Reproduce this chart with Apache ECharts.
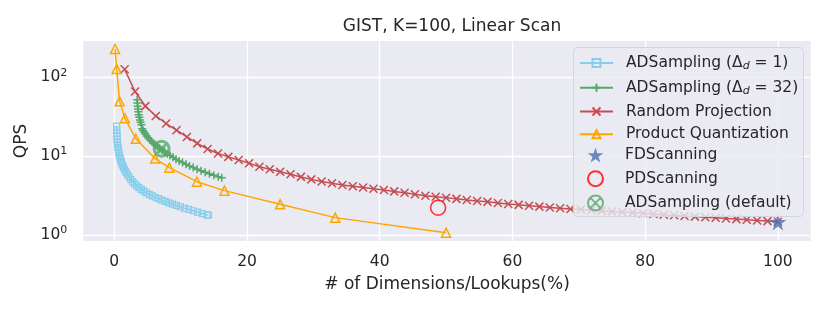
<!DOCTYPE html>
<html>
<head>
<meta charset="utf-8">
<script src="https://cdn.jsdelivr.net/npm/echarts@6/dist/echarts.min.js"></script>
<style>html,body{margin:0;padding:0;background:#fff}#c{width:830px;height:312px}</style>
</head>
<body>
<div id="c"></div>
<script>
// ---- data ----
const ad1X = [0.36,0.37,0.39,0.41,0.44,0.47,0.51,0.56,0.62,0.69,0.77,0.86,0.96,1.08,1.22,1.38,1.56,1.76,1.98,2.22,2.48,2.76,3.06,3.38,3.72,4.08,4.46,4.86,5.28,5.72,6.18,6.66,7.16,7.68,8.22,8.78,9.36,9.96,10.58,11.22,11.88,12.56,13.26,13.98,14.2];
const ad1Y = [24.0,21.5,19.5,17.8,16.3,15.0,13.9,12.9,12.0,11.1,10.3,9.6,8.9,8.3,7.7,7.2,6.7,6.25,5.85,5.45,5.05,4.72,4.45,4.2,3.98,3.78,3.6,3.43,3.28,3.14,3.01,2.89,2.77,2.66,2.56,2.46,2.37,2.28,2.19,2.11,2.03,1.95,1.87,1.8,1.78];
const ad32X = [3.45,3.48,3.52,3.57,3.63,3.70,3.78,3.87,3.97,4.08,4.20,4.34,4.50,4.68,4.88,5.10,5.34,5.60,5.88,6.18,6.50,6.84,7.20,7.58,7.98,8.40,8.84,9.30,9.78,10.28,10.80,11.34,11.90,12.48,13.08,13.70,14.34,15.00,15.68,16.2];
const ad32Y = [52,47,43,39.5,36.5,33.5,31,28.8,26.8,25,22.3,21.1,20.0,19.0,18.0,17.1,16.2,15.4,14.6,13.9,13.2,12.5,11.9,11.3,10.7,10.2,9.65,9.15,8.7,8.3,7.9,7.5,7.15,6.82,6.52,6.23,5.97,5.72,5.48,5.32];
const rpX = [1.5625,3.125,4.6875,6.25,7.8125,9.375,10.9375,12.5,14.0625,15.625,17.1875,18.75,20.3125,21.875,23.4375,25,26.5625,28.125,29.6875,31.25,32.8125,34.375,35.9375,37.5,39.0625,40.625,42.1875,43.75,45.3125,46.875,48.4375,50,51.5625,53.125,54.6875,56.25,57.8125,59.375,60.9375,62.5,64.0625,65.625,67.1875,68.75,70.3125,71.875,73.4375,75,76.5625,78.125,79.6875,81.25,82.8125,84.375,85.9375,87.5,89.0625,90.625,92.1875,93.75,95.3125,96.875,98.4375,100];
const rpY = [126,66,43,32.3,25.9,21.3,17.5,14.5,12.3,10.8,9.78,8.95,8.1,7.35,6.8,6.34,5.9,5.45,5.07,4.76,4.52,4.31,4.14,4.0,3.86,3.72,3.57,3.43,3.29,3.15,3.06,2.97,2.87,2.78,2.7,2.63,2.55,2.47,2.41,2.35,2.29,2.23,2.18,2.14,2.1,2.06,2.02,1.99,1.95,1.92,1.89,1.85,1.81,1.78,1.74,1.71,1.68,1.65,1.62,1.59,1.56,1.53,1.5,1.47];
const pqX = [0.12,0.36,0.8,1.6,3.25,6.15,8.3,12.45,16.6,25,33.3,50];
const pqY = [228,127,49.5,30.1,16.6,9.3,7.13,4.74,3.65,2.45,1.66,1.07];
const fdsPoint = [100, 1.46];
const pdsPoint = [48.8, 2.22];
const defPoint = [7.14, 12.4];
const xTicks = [0,20,40,60,80,100];
const yTicks = [1,10,100];
const lineNames = ['ADSampling (Δd = 1)','ADSampling (Δd = 32)','Random Projection','Product Quantization'];
const pointNames = ['FDScanning','PDScanning','ADSampling (default)'];

const zip = (a,b) => a.map((v,i)=>[v,b[i]]);
const FONT = 'DejaVu Sans';
const TXT = '#262626';
const PLUS = 'path://M0,5 L10,5 M5,0 L5,10';
const CROSS = 'path://M0,0 L10,10 M10,0 L0,10';
const STAR = 'path://M50,0 L61.2,34.5 L97.6,34.5 L68.2,55.9 L79.4,90.5 L50,69.1 L20.6,90.5 L31.8,55.9 L2.4,34.5 L38.8,34.5 Z';
const OTIMES = 'path://M20,10 A10,10 0 1,1 0,10 A10,10 0 1,1 20,10 Z M3,3 L17,17 M17,3 L3,17';

function lineSeries(name, data, color, symbol, size, bw) {
  return {
    name, type: 'line', data, showAllSymbol: true, symbol, symbolSize: size,
    lineStyle: {color, width: 1.5},
    itemStyle: {color: 'rgba(0,0,0,0)', borderColor: color, borderWidth: bw},
    emphasis: {disabled: true}, animation: false, z: 2
  };
}

const legendText = {fontFamily: FONT, fontSize: 15.5, color: TXT, lineHeight: 16, padding: [0,0,0,8],
  rich: {t: {fontFamily: FONT, fontSize: 15.5, color: TXT, lineHeight: 16},
         d: {fontFamily: FONT, fontSize: 11, fontStyle: 'italic', color: TXT, lineHeight: 9, padding: [7,0,0,0]}}};

const chart = echarts.init(document.getElementById('c'), null, {renderer: 'canvas'});
chart.setOption({
  animation: false,
  title: {text: 'GIST, K=100, Linear Scan', left: 447, textAlign: 'center', top: 13,
    textStyle: {fontFamily: FONT, fontSize: 17, fontWeight: 'normal', color: TXT}},
  grid: {left: 83.3, right: 19.3, top: 41, bottom: 71, show: true, backgroundColor: '#EAEAF2', borderWidth: 0},
  xAxis: {
    type: 'value', min: -4.67, max: 104.95,
    name: '# of Dimensions/Lookups(%)', nameLocation: 'middle', nameGap: 35,
    nameTextStyle: {fontFamily: FONT, fontSize: 17, color: TXT, verticalAlign: 'top'},
    axisLine: {show: false}, axisTick: {show: false, customValues: xTicks},
    axisLabel: {customValues: xTicks, fontFamily: FONT, fontSize: 15.5, color: TXT, margin: 13},
    splitLine: {show: true, lineStyle: {color: '#fff', width: 1.3}}
  },
  yAxis: {
    type: 'log', logBase: 10, min: 0.839, max: 288,
    name: 'QPS', nameLocation: 'middle', nameGap: 50,
    nameTextStyle: {fontFamily: FONT, fontSize: 17, color: TXT},
    axisLine: {show: false}, axisTick: {show: false, customValues: yTicks},
    axisLabel: {customValues: yTicks, margin: 16, color: TXT,
      formatter: v => '{b|10}{s|' + Math.round(Math.log10(v)) + '}',
      rich: {b: {fontFamily: FONT, fontSize: 15.5, color: TXT},
             s: {fontFamily: FONT, fontSize: 11, color: TXT, padding: [0,0,9,0]}}},
    splitLine: {show: true, lineStyle: {color: '#fff', width: 1.3}},
    minorTick: {show: false}, minorSplitLine: {show: false}
  },
  graphic: [{type: 'rect', left: 573, top: 47, z: 50,
    shape: {width: 230, height: 169, r: 4},
    style: {fill: 'rgba(234,234,242,0.8)', stroke: '#d4d4dc', lineWidth: 1}}],
  legend: [{
    orient: 'vertical', left: 579, top: 53.9, padding: 0, z: 60,
    itemWidth: 33, itemHeight: 10, itemGap: 6.8,
    data: lineNames,
    formatter: n => {
      if (n === lineNames[0]) return 'ADSampling ({t|Δ}{d|d}{t| = 1})';
      if (n === lineNames[1]) return 'ADSampling ({t|Δ}{d|d}{t| = 32})';
      return n;
    },
    textStyle: legendText
  }, {
    orient: 'vertical', left: 587, top: 147, padding: 0, z: 60,
    itemWidth: 33, itemHeight: 15, itemGap: 7.2,
    data: pointNames,
    textStyle: legendText
  }],
  series: [
    lineSeries(lineNames[0], zip(ad1X, ad1Y), '#87CEEB', 'rect', 6, 1.2),
    lineSeries(lineNames[1], zip(ad32X, ad32Y), '#55A868', PLUS, 8, 1.5),
    lineSeries(lineNames[2], zip(rpX, rpY), '#C44E52', CROSS, 8, 1.5),
    lineSeries(lineNames[3], zip(pqX, pqY), '#FFA500', 'triangle', 9, 1.5),
    {name: pointNames[0], type: 'scatter', data: [fdsPoint], symbol: STAR, symbolSize: 17,
      itemStyle: {color: '#4C72B0'}, emphasis: {disabled: true}, z: 3},
    {name: pointNames[1], type: 'scatter', data: [pdsPoint], symbol: 'circle', symbolSize: 15,
      itemStyle: {color: 'rgba(0,0,0,0)', borderColor: '#FF0000', borderWidth: 1.5}, emphasis: {disabled: true}, z: 3},
    {name: pointNames[2], type: 'scatter', data: [defPoint], symbol: OTIMES, symbolSize: 15,
      itemStyle: {color: 'rgba(0,0,0,0)', borderColor: '#55A868', borderWidth: 3}, emphasis: {disabled: true}, z: 3}
  ]
});
</script>
</body>
</html>
